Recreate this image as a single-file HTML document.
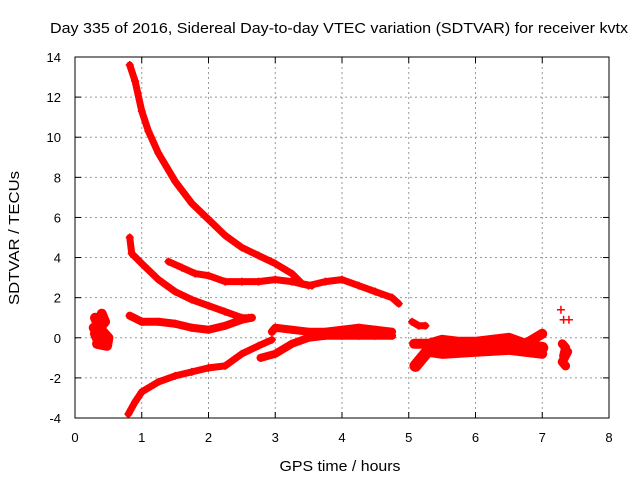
<!DOCTYPE html>
<html><head><meta charset="utf-8"><style>
body{margin:0;background:#fff}
svg{display:block;font-family:"Liberation Sans",sans-serif}
</style></head><body>
<svg id="chart" width="640" height="480">
<text x="339" y="33" font-size="15" text-anchor="middle" textLength="578" lengthAdjust="spacingAndGlyphs">Day 335 of 2016, Sidereal Day-to-day VTEC variation (SDTVAR) for receiver kvtx</text>
<text x="340" y="471" font-size="15" text-anchor="middle" textLength="121" lengthAdjust="spacingAndGlyphs">GPS time / hours</text>
<text transform="translate(19,238) rotate(-90)" font-size="15" text-anchor="middle" textLength="134" lengthAdjust="spacingAndGlyphs">SDTVAR / TECUs</text>
<g id="grid"></g><g id="ticks"></g><g id="marks"></g>
<rect x="75" y="57" width="534" height="361" fill="none" stroke="#000" stroke-width="1"/>
</svg>
<script>
const xTicks=[0,1,2,3,4,5,6,7,8];
const yTicks=[-4,-2,0,2,4,6,8,10,12,14];
const trackTop=[[0.82,13.6],[0.9,12.8],[1.0,11.3],[1.1,10.3],[1.25,9.2],[1.5,7.8],[1.75,6.7],[2.0,5.9],[2.25,5.1],[2.5,4.5],[2.75,4.1],[3.0,3.7],[3.25,3.2],[3.4,2.7],[3.55,2.6]];
const trackB=[[1.4,3.8],[1.6,3.5],[1.8,3.2],[2.0,3.1],[2.25,2.8],[2.5,2.8],[2.75,2.8],[3.0,2.9],[3.25,2.8],[3.5,2.6],[3.75,2.8],[4.0,2.9],[4.25,2.6],[4.5,2.3],[4.75,2.0],[4.85,1.7]];
const trackC=[[0.82,5.0],[0.85,4.2],[1.0,3.7],[1.25,2.9],[1.5,2.3],[1.75,1.9],[2.0,1.6],[2.25,1.3],[2.5,1.0],[2.6,1.0]];
const trackD=[[0.82,1.1],[1.0,0.8],[1.25,0.8],[1.5,0.7],[1.75,0.5],[2.0,0.4],[2.25,0.6],[2.5,0.9],[2.65,1.0]];
const trackE=[[0.8,-3.8],[0.9,-3.2],[1.0,-2.7],[1.25,-2.2],[1.5,-1.9],[1.75,-1.7],[2.0,-1.5],[2.25,-1.4],[2.5,-0.8],[2.75,-0.4],[2.95,-0.1]];
const trackF=[[2.95,0.3],[3.0,0.5],[3.25,0.4],[3.5,0.3],[3.75,0.3],[4.0,0.4],[4.25,0.5],[4.5,0.4],[4.75,0.3]];
const trackG=[[2.78,-1.0],[3.0,-0.8],[3.25,-0.3],[3.5,0.0],[3.75,0.1],[4.0,0.1],[4.25,0.1],[4.5,0.1],[4.75,0.1]];
const clusterA=[[0.3,1.0],[0.35,0.6],[0.4,1.2],[0.45,0.8],[0.3,0.2],[0.35,-0.2],[0.42,0.3],[0.5,0.0],[0.48,-0.4],[0.33,-0.3],[0.38,0.0],[0.28,0.5]];
const trackH=[[5.05,0.8],[5.15,0.6],[5.25,0.6]];
const trackI=[[5.1,-1.4],[5.2,-1.0],[5.3,-0.6],[5.5,-0.5],[5.75,-0.4],[6.0,-0.4],[6.25,-0.2],[6.5,-0.3],[6.75,-0.4],[7.0,-0.5]];
const trackJ=[[5.08,-0.3],[5.3,-0.3],[5.5,-0.1],[5.75,-0.2],[6.0,-0.2],[6.25,-0.1],[6.5,0.0],[6.75,-0.3],[7.0,0.2]];
const trackK=[[5.3,-0.7],[5.5,-0.8],[6.0,-0.7],[6.5,-0.6],[7.0,-0.8]];
const clusterB=[[7.28,1.4],[7.32,0.9],[7.4,0.9]];
const clusterC=[[7.3,-0.3],[7.35,-0.5],[7.32,-0.9],[7.38,-0.7],[7.3,-1.2],[7.35,-1.4]];
const X=v=>75+v*534/8, Y=v=>418-(v+4)*361/18;
const NS="http://www.w3.org/2000/svg";
const g=document.getElementById('grid'),tk=document.getElementById('ticks'),mk=document.getElementById('marks');
function el(t,a,p){const e=document.createElementNS(NS,t);for(const k in a)e.setAttribute(k,a[k]);p.appendChild(e);return e;}
xTicks.forEach(v=>{
 if(v>0&&v<8){const l=el('line',{x1:X(v),x2:X(v),y1:57,y2:418,stroke:'#999','stroke-dasharray':'2,3'},g);
 
 }
 const t=el('text',{x:X(v),y:442,'font-size':13,'text-anchor':'middle'},tk);t.textContent=v;
 
 
 el('line',{x1:X(v),x2:X(v),y1:418,y2:412,stroke:'#000'},tk);
 el('line',{x1:X(v),x2:X(v),y1:57,y2:63,stroke:'#000'},tk);
});
yTicks.forEach(v=>{
 if(v>-4&&v<14){const l=el('line',{x1:75,x2:609,y1:Y(v),y2:Y(v),stroke:'#999','stroke-dasharray':'2,3'},g);
 
 }
 const t=el('text',{x:61,y:Y(v)+5,'font-size':13,'text-anchor':'end'},tk);t.textContent=v;
 
 
 el('line',{x1:75,x2:81,y1:Y(v),y2:Y(v),stroke:'#000'},tk);
 el('line',{x1:609,x2:603,y1:Y(v),y2:Y(v),stroke:'#000'},tk);
});
function track(pts,name,line,w){
 if(line){const p=el('polyline',{points:pts.map(q=>X(q[0])+','+Y(q[1])).join(' '),fill:'none',stroke:'#f00','stroke-width':w||7,'stroke-linejoin':'round','stroke-linecap':'round'},mk);
 
 }
 pts.forEach(q=>{const x=X(q[0]),y=Y(q[1]);
  const m=el('path',{d:`M${x-4},${y}H${x+4}M${x},${y-4}V${y+4}`,stroke:'#f00','stroke-width':1.5},mk);
  
  });
}
track(trackTop,'track-top',true);track(trackB,'track-b',true);track(trackC,'track-c',true);
track(trackD,'track-d',true,8);track(trackE,'track-e',true);track(trackF,'track-f',true,8);
track(trackG,'track-g',true,8);track(clusterA,'cluster-a',true,10);track(trackH,'track-h',true);
track(trackI,'track-i',true,12);track(trackJ,'track-j',true,10);track(trackK,'track-k',true,10);
track(clusterB,'cluster-b',false);track(clusterC,'cluster-c',true,9);
</script>
</body></html>
